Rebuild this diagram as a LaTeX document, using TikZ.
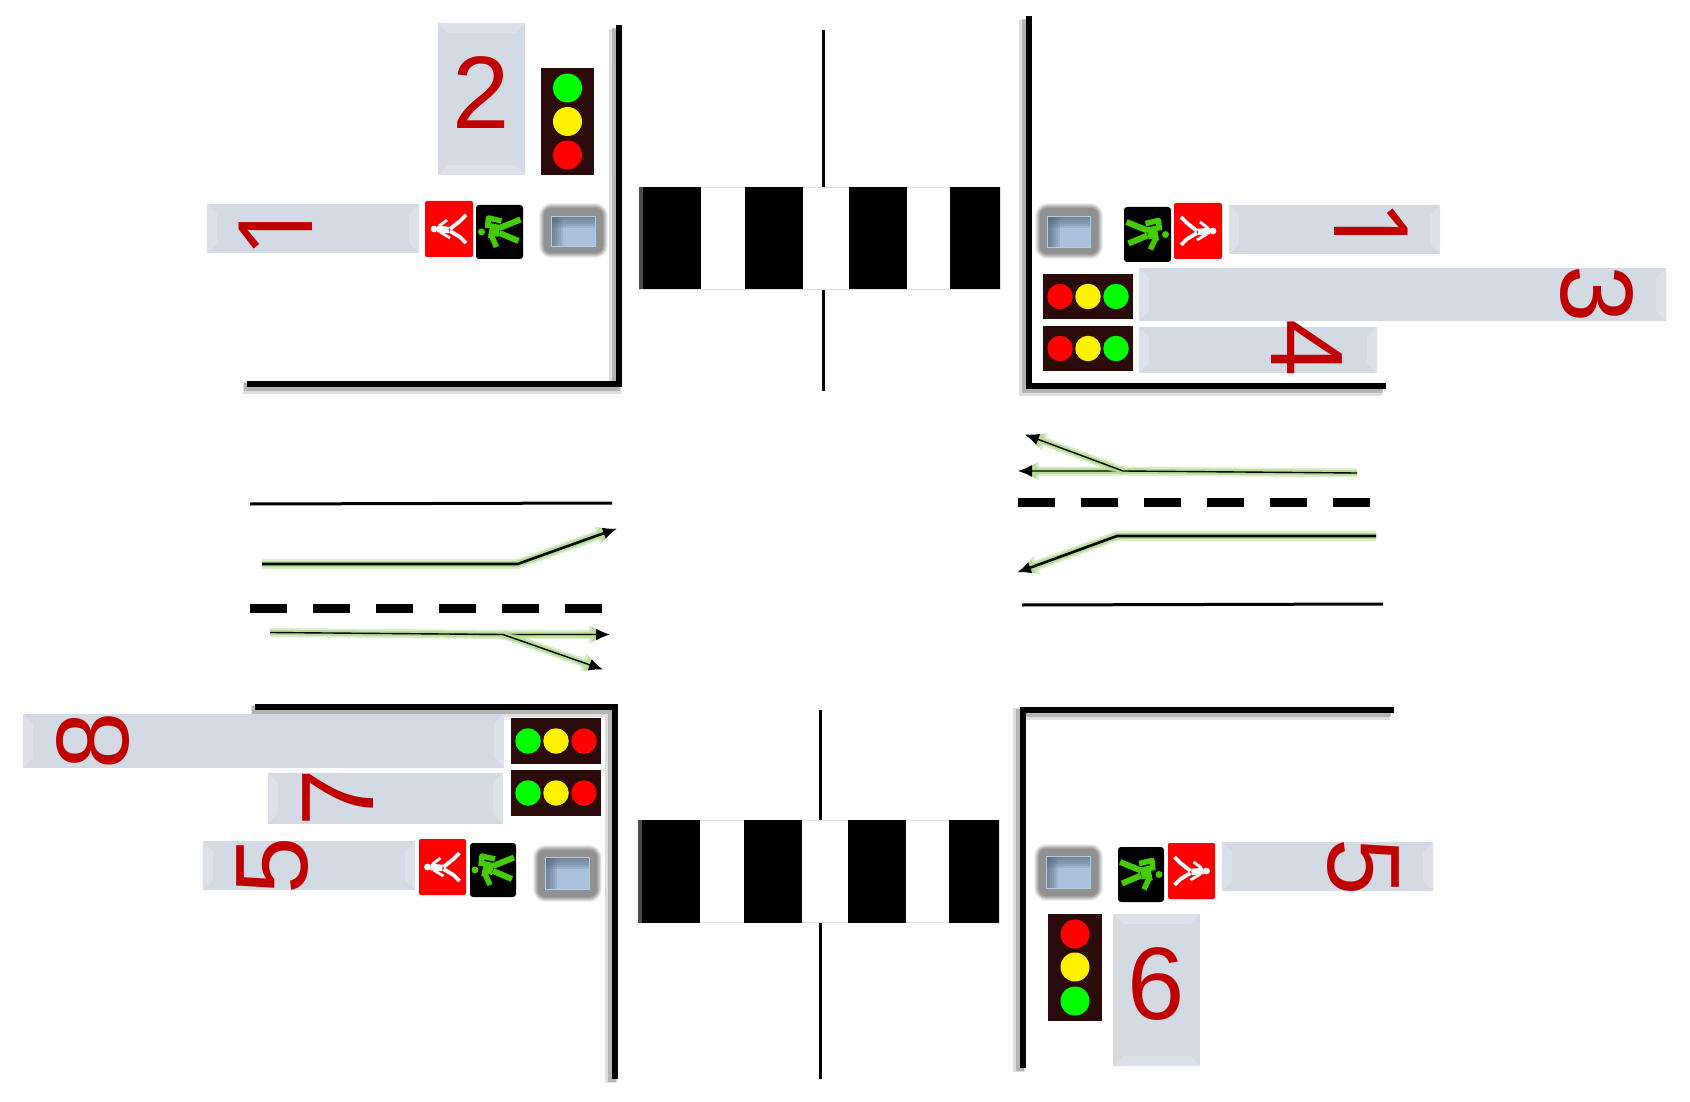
\documentclass[tikz,border=0pt]{standalone}
\usepackage{fontspec}
\setmainfont{Liberation Sans}
\newfontfamily\onefont{Open Sans}
\usetikzlibrary{arrows.meta}
\definecolor{boxgray}{HTML}{D3DAE3}
\definecolor{boxedge}{HTML}{DBE1E9}
\definecolor{digitred}{HTML}{C00000}
\definecolor{housing}{HTML}{2B0A0A}
\definecolor{walkgreen}{HTML}{44CC00}
\definecolor{glowgreen}{HTML}{B7DD98}
\definecolor{btnblue}{HTML}{A9C1DE}
\definecolor{btnedge}{HTML}{56647A}
\tikzset{
	widebox/.style={fill=boxgray, inner sep=0pt, path picture={
		\fill[boxedge] (path picture bounding box.north west) -- ++(10pt,-10pt) -- ([shift={(10pt,10pt)}]path picture bounding box.south west) -- (path picture bounding box.south west) -- cycle;
		\fill[boxedge] (path picture bounding box.north east) -- ++(-10pt,-10pt) -- ([shift={(-10pt,10pt)}]path picture bounding box.south east) -- (path picture bounding box.south east) -- cycle;
	}},
	tallbox/.style={fill=boxgray, inner sep=0pt, path picture={
		\fill[boxedge] (path picture bounding box.north west) -- ++(10pt,-10pt) -- ([shift={(-10pt,-10pt)}]path picture bounding box.north east) -- (path picture bounding box.north east) -- cycle;
		\fill[boxedge] (path picture bounding box.south west) -- ++(10pt,10pt) -- ([shift={(-10pt,10pt)}]path picture bounding box.south east) -- (path picture bounding box.south east) -- cycle;
	}},
	digit/.style={text=digitred, inner sep=0pt, font=\fontsize{103}{103}\selectfont},
	onedigit/.style={digit, font=\onefont\fontsize{103}{103}\selectfont},
	signal/.style={fill=housing, inner sep=0pt},
	lamp/.style={circle, inner sep=0pt, minimum size=25.5pt},
	biglamp/.style={circle, inner sep=0pt, minimum size=29pt},
	redped/.style={fill=red, rounded corners=2pt, inner sep=0pt},
	greenped/.style={fill=black, rounded corners=3pt, inner sep=0pt},
	pushbutton/.style={fill=btnblue, draw=btnblue!85!white, line width=0.8pt, inner sep=0pt,
		preaction={draw=black, opacity=.06, line width=25pt, line join=round},
		preaction={draw=black, opacity=.08, line width=23pt, line join=round},
		preaction={draw=black, opacity=.1, line width=21pt, line join=round},
		preaction={draw=black, opacity=.1, line width=19pt, line join=round},
		preaction={draw=black, opacity=.1, line width=17pt, line join=round},
		preaction={draw=black, opacity=.1, line width=15pt, line join=round},
		path picture={
		\foreach \d in {2,4,...,12} {
			\fill[btnedge, opacity=.16] (path picture bounding box.north west) rectangle ([xshift=\d pt]path picture bounding box.south west);
			\fill[btnedge, opacity=.16] (path picture bounding box.north west) rectangle ([yshift=-\d pt]path picture bounding box.north east);
		}
	}},
	stripe/.style={fill=black, inner sep=0pt, minimum height=102.5pt},
	zebraback/.style={draw=black!12, line width=.8pt, inner sep=0pt, minimum height=102pt},
	kerb/.style={draw=black, line width=6pt, line cap=butt, line join=miter,
		preaction={draw=gray, opacity=.25, line width=12pt, transform canvas={shift={(-4pt,-4pt)}}},
		preaction={draw=gray, opacity=.45, line width=8pt, transform canvas={shift={(-3pt,-3pt)}}}},
	roadedge/.style={draw=black, line width=3pt},
	laneline/.style={draw=black, line width=9pt, dash pattern=on 36.5pt off 26.5pt},
	thickflow/.style={draw=black, line width=2.6pt, line join=round, -{Latex[length=14pt,width=12pt]},
		preaction={draw=glowgreen, opacity=.5, line width=10pt, -{Latex[length=21pt,width=20pt]}},
		preaction={draw=glowgreen, line width=6.5pt, -{Latex[length=18pt,width=16pt]}}},
	thinflow/.style={draw=black, line width=1.4pt, -{Latex[length=14pt,width=12pt]},
		preaction={draw=glowgreen, opacity=.5, line width=9pt, -{Latex[length=21pt,width=20pt]}},
		preaction={draw=glowgreen, line width=5.5pt, -{Latex[length=18pt,width=16pt]}}},
	whitewalker/.pic={
		\fill[white] (-15,0) circle (3.4);
		\draw[white, line width=6.5pt] (-12,0) -- (0,1);
		\draw[white, line width=3.8pt, line join=round] (1,0) -- (11,-8) -- (17,-14);
		\draw[white, line width=3.8pt, line join=round] (1,2) -- (11,8) -- (17,14);
		\draw[white, line width=2.8pt] (-10,-3) -- (-2,-9);
		\draw[white, line width=2.8pt] (-9,3) -- (1,9);
	},
	greenwalker/.pic={
		\fill[walkgreen] (-18,0) circle (3.5);
		\draw[walkgreen, line width=12pt] (-10,-3) -- (0,-1);
		\draw[walkgreen, line width=5.5pt, line join=round] (-12,-4) -- (-11,-14) -- (2,-11);
		\draw[walkgreen, line width=5.5pt, line join=round] (-11,3) -- (-8,4) -- (-3,15);
		\draw[walkgreen, line width=6pt] (0,-4) -- (21,-12.5);
		\draw[walkgreen, line width=6pt] (0,1) -- (19,9);
	}
}
\begin{document}
\begin{tikzpicture}[x=1pt,y=-1pt]
	\useasboundingbox (0,0) rectangle (1690,1102);

	% kerbs
	\coordinate (tlA) at (619,25);
	\coordinate (tlB) at (619,384);
	\coordinate (tlC) at (247,384);
	\coordinate (trA) at (1029,16);
	\coordinate (trB) at (1029,386);
	\coordinate (trC) at (1386,386);
	\coordinate (blA) at (255,707);
	\coordinate (blB) at (614.5,707);
	\coordinate (blC) at (614.5,1079);
	\coordinate (brA) at (1394,710);
	\coordinate (brB) at (1022.5,710);
	\coordinate (brC) at (1022.5,1068);
	\path[kerb] (tlA) -- (tlB) -- (tlC);
	\path[kerb] (trA) -- (trB) -- (trC);
	\path[kerb] (blA) -- (blB) -- (blC);
	\path[kerb] (brA) -- (brB) -- (brC);

	% centre lines
	\coordinate (ctA) at (823,30);
	\coordinate (ctB) at (823,187);
	\coordinate (ctC) at (823,289);
	\coordinate (ctD) at (823,391);
	\coordinate (cbA) at (820,710);
	\coordinate (cbB) at (820,820);
	\coordinate (cbC) at (820,923);
	\coordinate (cbD) at (820,1079);
	\draw[roadedge] (ctA) -- (ctB) (ctC) -- (ctD) (cbA) -- (cbB) (cbC) -- (cbD);

	% zebra crossings
	\node[zebraback, minimum width=361pt] (zebTop) at (819.5,238) {};
	\node[stripe, minimum width=62pt] (zebA) at (670,238) {};
	\node[stripe, minimum width=58pt] (zebB) at (774,238) {};
	\node[stripe, minimum width=58pt] (zebC) at (878,238) {};
	\node[stripe, minimum width=50pt] (zebD) at (975,238) {};
	\fill[black!70] (zebA.north west) rectangle ([xshift=4pt]zebA.south west);
	\node[zebraback, minimum width=361pt] (zebBot) at (819,871.5) {};
	\node[stripe, minimum width=62pt] (zebE) at (669,871.5) {};
	\node[stripe, minimum width=58pt] (zebF) at (773,871.5) {};
	\node[stripe, minimum width=58pt] (zebG) at (877,871.5) {};
	\node[stripe, minimum width=50pt] (zebH) at (974,871.5) {};
	\fill[black!70] (zebE.north west) rectangle ([xshift=4pt]zebE.south west);

	% road west
	\coordinate (wtA) at (250,504);
	\coordinate (wtB) at (612,503);
	\coordinate (wdA) at (250,608);
	\coordinate (wdB) at (602,608);
	\coordinate (wfA) at (262,564);
	\coordinate (wfB) at (517.5,564);
	\coordinate (wfC) at (617,528.5);
	\coordinate (wgA) at (270,632.5);
	\coordinate (wgB) at (503,634.5);
	\coordinate (wgC) at (610,634.5);
	\coordinate (wgD) at (603,669.5);
	\draw[roadedge] (wtA) -- (wtB);
	\draw[laneline] (wdA) -- (wdB);
	\draw[thickflow] (wfA) -- (wfB) -- (wfC);
	\draw[thinflow] (wgA) -- (wgB) -- (wgC);
	\draw[thinflow] (wgB) -- (wgD);

	% road east
	\coordinate (etA) at (1022,605);
	\coordinate (etB) at (1383,604);
	\coordinate (edA) at (1018,502);
	\coordinate (edB) at (1370,502);
	\coordinate (efA) at (1376,536);
	\coordinate (efB) at (1117,536);
	\coordinate (efC) at (1017,572.5);
	\coordinate (egA) at (1357,473);
	\coordinate (egB) at (1123,471);
	\coordinate (egC) at (1018,471);
	\coordinate (egD) at (1025,434.5);
	\draw[roadedge] (etA) -- (etB);
	\draw[laneline] (edA) -- (edB);
	\draw[thickflow] (efA) -- (efB) -- (efC);
	\draw[thinflow] (egA) -- (egB) -- (egC);
	\draw[thinflow] (egB) -- (egD);

	% north west corner
	\node[tallbox, minimum width=87pt, minimum height=152pt] (boxTwo) at (481.5,99) {};
	\node[digit] (digTwo) at (481,93) {2};
	\node[signal, minimum width=53pt, minimum height=107pt] (sigTwo) at (567.5,121.5) {};
	\node[lamp, biglamp, fill=green] (sigTwoA) at (567.5,88) {};
	\node[lamp, biglamp, fill=yellow] (sigTwoB) at (567.5,121.5) {};
	\node[lamp, biglamp, fill=red] (sigTwoC) at (567.5,155) {};
	\node[widebox, minimum width=212pt, minimum height=49pt] (boxOneW) at (313,228.5) {};
	\node[onedigit, rotate=90] (digOneW) at (276,229) {1};
	\node[redped, minimum width=48pt, minimum height=56pt] (redNW) at (449,229) {};
	\node[greenped, minimum width=47pt, minimum height=54pt] (grnNW) at (499.5,232) {};
	\pic at (redNW) {whitewalker};
	\pic at (grnNW) {greenwalker};
	\node[pushbutton, minimum width=44pt, minimum height=30pt] (btnNW) at (573,231) {};

	% north east corner
	\node[pushbutton, minimum width=43pt, minimum height=31pt] (btnNE) at (1069,231.5) {};
	\node[greenped, minimum width=47pt, minimum height=55pt] (grnNE) at (1147.5,234.5) {};
	\node[redped, minimum width=48pt, minimum height=56pt] (redNE) at (1198,231) {};
	\pic[xscale=-1] at (grnNE) {greenwalker};
	\pic[xscale=-1] at (redNE) {whitewalker};
	\node[widebox, minimum width=211pt, minimum height=49pt] (boxOneE) at (1334.5,229.5) {};
	\node[onedigit, rotate=-90] (digOneE) at (1371,228.5) {1};
	\node[signal, minimum width=90pt, minimum height=45pt] (sigThree) at (1088,296.5) {};
	\node[lamp, fill=red] (sigThreeA) at (1060,296.5) {};
	\node[lamp, fill=yellow] (sigThreeB) at (1088,296.5) {};
	\node[lamp, fill=green] (sigThreeC) at (1116,296.5) {};
	\node[widebox, minimum width=527pt, minimum height=53pt] (boxThree) at (1402.5,294.5) {};
	\node[digit, rotate=-90] (digThree) at (1597,294) {3};
	\node[signal, minimum width=90pt, minimum height=45pt] (sigFour) at (1088,348.5) {};
	\node[lamp, fill=red] (sigFourA) at (1060,348.5) {};
	\node[lamp, fill=yellow] (sigFourB) at (1088,348.5) {};
	\node[lamp, fill=green] (sigFourC) at (1116,348.5) {};
	\node[widebox, minimum width=238pt, minimum height=46pt] (boxFour) at (1258,350) {};
	\node[digit, rotate=-90] (digFour) at (1307,348) {4};

	% south west corner
	\node[widebox, minimum width=481pt, minimum height=54pt] (boxEight) at (263.5,740.5) {};
	\node[digit, rotate=90] (digEight) at (93,740.5) {8};
	\node[signal, minimum width=90pt, minimum height=46pt] (sigEight) at (556,741) {};
	\node[lamp, fill=green] (sigEightA) at (528,741) {};
	\node[lamp, fill=yellow] (sigEightB) at (556,741) {};
	\node[lamp, fill=red] (sigEightC) at (584,741) {};
	\node[widebox, minimum width=235pt, minimum height=51pt] (boxSeven) at (385.5,798) {};
	\node[digit, rotate=90] (digSeven) at (338,798) {7};
	\node[signal, minimum width=90pt, minimum height=46pt] (sigSeven) at (556,793) {};
	\node[lamp, fill=green] (sigSevenA) at (528,793) {};
	\node[lamp, fill=yellow] (sigSevenB) at (556,793) {};
	\node[lamp, fill=red] (sigSevenC) at (584,793) {};
	\node[widebox, minimum width=212pt, minimum height=49pt] (boxFiveW) at (309,865.5) {};
	\node[digit, rotate=90] (digFiveW) at (273,866) {5};
	\node[redped, minimum width=47pt, minimum height=56pt] (redSW) at (442.5,867) {};
	\node[greenped, minimum width=46pt, minimum height=54pt] (grnSW) at (493,870) {};
	\pic at (redSW) {whitewalker};
	\pic at (grnSW) {greenwalker};
	\node[pushbutton, minimum width=44pt, minimum height=32pt] (btnSW) at (567,873) {};

	% south east corner
	\node[pushbutton, minimum width=44pt, minimum height=32pt] (btnSE) at (1068,872) {};
	\node[greenped, minimum width=46pt, minimum height=55pt] (grnSE) at (1141,874.5) {};
	\node[redped, minimum width=47pt, minimum height=56pt] (redSE) at (1191.5,871) {};
	\pic[xscale=-1] at (grnSE) {greenwalker};
	\pic[xscale=-1] at (redSE) {whitewalker};
	\node[widebox, minimum width=211pt, minimum height=49pt] (boxFiveE) at (1327.5,866.5) {};
	\node[digit, rotate=-90] (digFiveE) at (1363,867) {5};
	\node[signal, minimum width=54pt, minimum height=107pt] (sigSix) at (1075,967.5) {};
	\node[lamp, biglamp, fill=red] (sigSixA) at (1075,934) {};
	\node[lamp, biglamp, fill=yellow] (sigSixB) at (1075,967) {};
	\node[lamp, biglamp, fill=green] (sigSixC) at (1075,1001) {};
	\node[tallbox, minimum width=87pt, minimum height=152pt] (boxSix) at (1156.5,990) {};
	\node[digit] (digSix) at (1156,984) {6};
\end{tikzpicture}
\end{document}
